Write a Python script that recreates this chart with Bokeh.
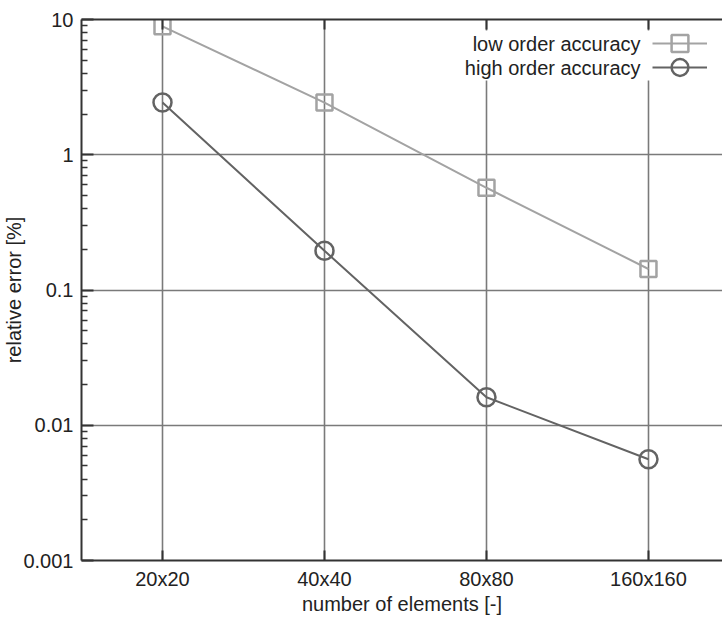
from bokeh.plotting import figure
from bokeh.models import (FixedTicker, LinearAxis, LogAxis, Range1d, Legend, LegendItem,
                          Label, BoxAnnotation, ColumnDataSource, Grid)
from bokeh.embed import file_html
from bokeh.resources import INLINE

categories = ["20x20", "40x40", "80x80", "160x160"]
low_order = [8.9, 2.43, 0.57, 0.143]
high_order = [2.43, 0.195, 0.0161, 0.0056]
y_major = [0.001, 0.01, 0.1, 1, 10]
y_labels = ["0.001", "0.01", "0.1", "1", "10"]
series_names = ["low order accuracy", "high order accuracy"]

xpos = list(range(len(categories)))
src = ColumnDataSource(dict(x=xpos, low=low_order, high=high_order))

FONT = "Liberation Sans"
FS = "20px"
TXT = "#222222"
AX = "#333333"

p = figure(width=722, height=617, output_backend="svg", toolbar_location=None,
           y_axis_type="log", x_range=Range1d(-0.5, 3.457), y_range=Range1d(0.001, 10),
           min_border_left=81, min_border_right=0, min_border_top=19, min_border_bottom=57,
           outline_line_color=None)
p.xaxis.visible = False
p.yaxis.visible = False
p.xgrid.visible = False
p.ygrid.visible = False

minor = [k * m for m in [0.001, 0.01, 0.1, 1] for k in range(2, 10)]

ya = LogAxis(ticker=FixedTicker(ticks=y_major, minor_ticks=minor),
             major_label_overrides={v: s for v, s in zip(y_major, y_labels)},
             axis_label="relative error [%]",
             major_tick_in=12, major_tick_out=0, minor_tick_in=6, minor_tick_out=0,
             axis_line_color=AX, axis_line_width=2,
             major_tick_line_color=AX, major_tick_line_width=2,
             minor_tick_line_color=AX, minor_tick_line_width=1.5,
             major_label_text_font=FONT, major_label_text_font_size=FS,
             major_label_text_color=TXT, major_label_standoff=8,
             axis_label_text_font=FONT, axis_label_text_font_size=FS,
             axis_label_text_font_style="normal", axis_label_text_color=TXT,
             axis_label_standoff=-5)
p.add_layout(ya, "left")

xa = LinearAxis(ticker=FixedTicker(ticks=xpos),
                major_label_overrides={i: c for i, c in zip(xpos, categories)},
                axis_label="number of elements [-]",
                major_tick_in=10, major_tick_out=0, minor_tick_line_color=None,
                axis_line_color=AX, axis_line_width=2,
                major_tick_line_color=AX, major_tick_line_width=2,
                major_label_text_font=FONT, major_label_text_font_size=FS,
                major_label_text_color=TXT, major_label_standoff=7,
                axis_label_text_font=FONT, axis_label_text_font_size=FS,
                axis_label_text_font_style="normal", axis_label_text_color=TXT,
                axis_label_standoff=0)
p.add_layout(xa, "below")

xt = LinearAxis(ticker=FixedTicker(ticks=xpos),
                major_label_overrides={i: "" for i in xpos},
                major_label_text_font_size="1px",
                major_tick_in=10, major_tick_out=0, minor_tick_line_color=None,
                axis_line_color=AX, axis_line_width=2,
                major_tick_line_color=AX, major_tick_line_width=2,
                major_label_standoff=0)
p.add_layout(xt, "above")

p.add_layout(Grid(dimension=0, ticker=xa.ticker, grid_line_color="#7a7a7a", grid_line_width=1.6))
p.add_layout(Grid(dimension=1, ticker=ya.ticker, grid_line_color="#7a7a7a", grid_line_width=1.6))

LOW_C = "#a3a3a3"
HIGH_C = "#636363"
l1 = p.line("x", "low", source=src, line_color=LOW_C, line_width=2)
m1 = p.scatter("x", "low", source=src, marker="square", size=16, fill_color=None,
               line_color=LOW_C, line_width=2.5)
l2 = p.line("x", "high", source=src, line_color=HIGH_C, line_width=2)
m2 = p.scatter("x", "high", source=src, marker="circle", size=18, fill_color=None,
               line_color=HIGH_C, line_width=2.5)

# white background behind the legend
p.add_layout(BoxAnnotation(left=381, right=633, top=530, bottom=480,
                           left_units="screen", right_units="screen",
                           top_units="screen", bottom_units="screen",
                           fill_color="white", fill_alpha=1, line_color=None,
                           level="overlay"))

for i, (rs, ly) in enumerate([([l1, m1], 496), ([l2, m2], 472)]):
    leg = Legend(items=[LegendItem(label=" ", renderers=rs)],
                 location=(571, ly), border_line_color=None, background_fill_alpha=0,
                 label_width=0, label_standoff=0, label_text_font_size="1px",
                 label_height=10,
                 glyph_width=55, glyph_height=42, spacing=0, padding=0, margin=0,
                 level="overlay")
    p.add_layout(leg)

for i, name in enumerate(series_names):
    p.add_layout(Label(x=559, y=517 - 24 * i, x_units="screen", y_units="screen",
                       text=name, text_align="right", text_baseline="middle",
                       text_font=FONT, text_font_size=FS, text_color=TXT,
                       level="overlay"))

open("out.html", "w").write(file_html(p, INLINE))
